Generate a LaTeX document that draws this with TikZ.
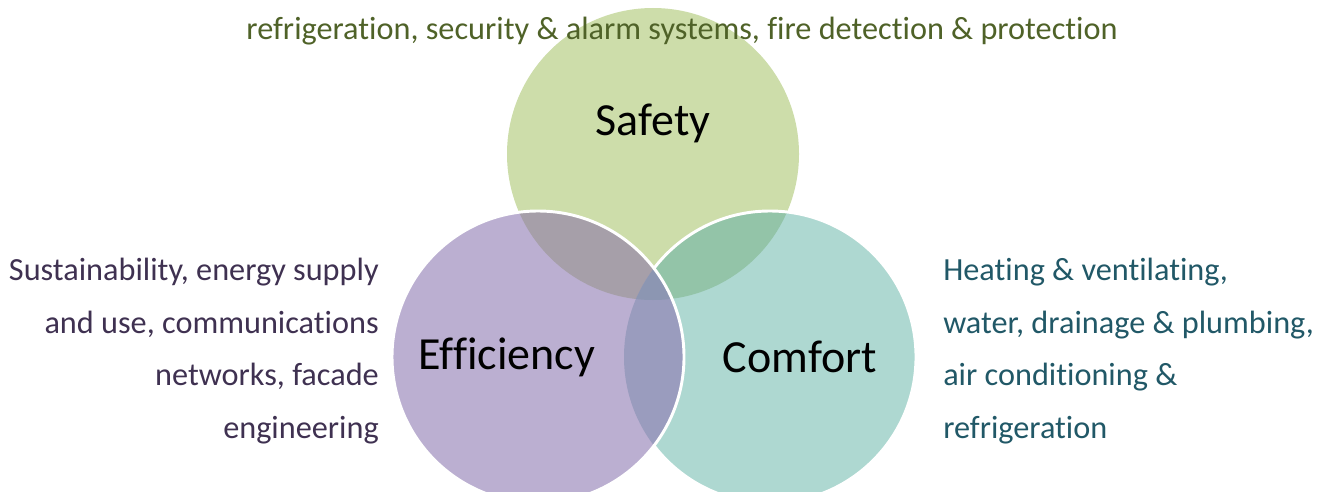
\documentclass[tikz,border=0pt]{standalone}
\usepackage{fontspec}
\setmainfont{Carlito}[Ligatures=NoCommon]

\definecolor{safetyfill}{HTML}{CDDDAA}
\definecolor{efficfill}{HTML}{BBAFD1}
\definecolor{comfortfill}{HTML}{AED8D1}
\definecolor{selens}{HTML}{A69FA9}
\definecolor{sclens}{HTML}{93C4A8}
\definecolor{eclens}{HTML}{9A9CBE}
\definecolor{middle}{HTML}{8C96B2}
\definecolor{safetytext}{HTML}{4F6228}
\definecolor{effictext}{HTML}{3F3151}
\definecolor{comforttext}{HTML}{215867}

\tikzset{
    ring/.style={draw=white, line width=2.2pt},
    setname/.style={font=\fontsize{34.5}{38}\selectfont, text=black},
    blurb/.style={font=\fontsize{24.2}{39.5}\selectfont, inner sep=0pt},
}

\begin{document}
\begin{tikzpicture}[x=0.75pt, y=-0.75pt]
    \useasboundingbox (0,0) rectangle (1330,492);
    \def\rad{109.5pt}

    \coordinate (safety) at (653,154);
    \coordinate (effic) at (538,357);
    \coordinate (comfort) at (770,357);

    % top circle
    \fill[safetyfill] (safety) circle (\rad);

    % right circle
    \fill[comfortfill] (comfort) circle (\rad);
    \begin{scope}
        \clip (safety) circle (\rad);
        \fill[sclens] (comfort) circle (\rad);
    \end{scope}
    \draw[ring] (comfort) circle (\rad);

    % left circle
    \fill[efficfill] (effic) circle (\rad);
    \begin{scope}
        \clip (effic) circle (\rad);
        \fill[selens] (safety) circle (\rad);
        \fill[eclens] (comfort) circle (\rad);
        \clip (safety) circle (\rad);
        \fill[middle] (comfort) circle (\rad);
    \end{scope}
    \draw[ring] (effic) circle (\rad);

    \node[setname] (safetyname) at (653,123) {Safety};
    \node[setname] (efficname) at (507,357) {Efficiency};
    \node[setname] (comfortname) at (800,357) {Comfort};

    \node[blurb, text=safetytext] (safetyblurb) at (682,31)
        {refrigeration, security \& alarm systems, fire detection \& protection};
    \node[blurb, text=effictext, align=right, anchor=east] (efficblurb) at (379,351)
        {Sustainability, energy supply\\and use, communications\\networks, facade\\engineering};
    \node[blurb, text=comforttext, align=left, anchor=west] (comfortblurb) at (943,351)
        {Heating \& ventilating,\\water, drainage \& plumbing,\\air conditioning \&\\refrigeration};
\end{tikzpicture}
\end{document}
